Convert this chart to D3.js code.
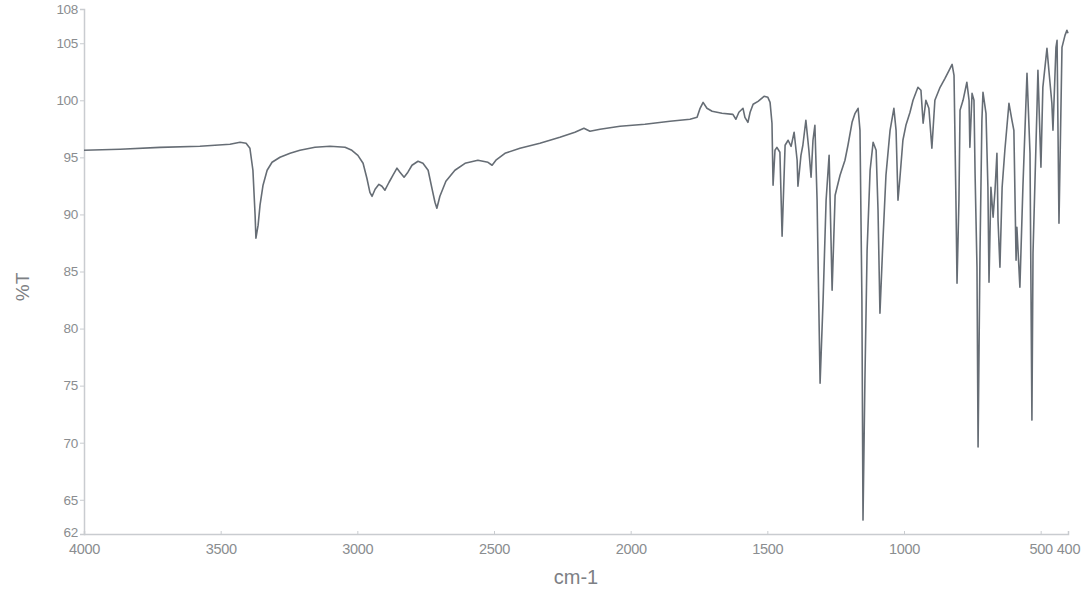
<!DOCTYPE html>
<html>
<head>
<meta charset="utf-8">
<script src="https://cdn.jsdelivr.net/npm/d3@7"></script>
<style>
  html, body { margin: 0; padding: 0; background: #fff; }
  svg { display: block; }
  .tick text { font-family: "Liberation Sans", Arial, sans-serif; }
</style>
</head>
<body>
<svg id="chart" width="1090" height="592"></svg>
<script>
// Wavenumber (cm-1) values
const wavenumbers = [
  4000, 3868, 3722, 3576, 3466, 3429, 3407, 3393, 3382, 3374, 3371, 3363, 3356, 3345, 3330, 3312,
  3283, 3246, 3210, 3155, 3100, 3045, 3020, 2998, 2979, 2965, 2954, 2946, 2935, 2921, 2910, 2899,
  2884, 2870, 2855, 2844, 2829, 2815, 2800, 2778, 2760, 2741, 2727, 2716, 2709, 2698, 2676, 2643,
  2606, 2559, 2522, 2507, 2493, 2460, 2405, 2332, 2259, 2204, 2171, 2149, 2112, 2039, 1948, 1856,
  1783, 1757, 1746, 1735, 1721, 1702, 1666, 1626, 1615, 1604, 1589, 1582, 1571, 1563, 1552, 1534,
  1512, 1498, 1490,
  1483, 1479, 1472, 1465, 1454, 1446, 1435, 1424, 1413, 1402, 1391, 1388, 1377, 1370, 1359, 1348,
  1340, 1333, 1326, 1318, 1307, 1296, 1285, 1274, 1267, 1263, 1252, 1234, 1216, 1205, 1190, 1179,
  1168, 1161, 1154, 1150, 1143, 1135, 1124, 1113, 1102, 1095, 1088, 1077, 1066, 1051, 1037, 1029,
  1022, 1015, 1004, 993, 978, 967, 949, 938, 930, 920, 909, 898, 887, 868, 850, 835,
  824, 817, 810, 806, 799, 795, 784, 770, 762, 759, 751, 744, 740, 733, 729, 722,
  715, 711, 700, 693, 689, 682, 674, 667, 660, 656, 649, 641, 631, 616, 605, 598,
  590, 587, 576, 565, 550, 539, 532, 528, 513, 510, 499, 492, 477, 470, 459, 455,
  444, 440, 433, 422, 411, 404, 400
];
// Transmittance (%T) at each wavenumber
const transmittance = [
  95.62, 95.71, 95.88, 95.97, 96.15, 96.32, 96.23, 95.80, 93.87, 89.93, 87.92, 89.06, 90.81, 92.56, 93.87, 94.57,
  95.01, 95.36, 95.62, 95.88, 95.97, 95.88, 95.62, 95.18, 94.48, 93.17, 91.94, 91.59, 92.21, 92.64, 92.47, 92.12,
  92.82, 93.43, 94.05, 93.70, 93.26, 93.70, 94.31, 94.66, 94.48, 93.87, 92.29, 91.07, 90.54, 91.59, 92.91, 93.87,
  94.48, 94.75, 94.57, 94.31, 94.75, 95.36, 95.80, 96.23, 96.76, 97.20, 97.55, 97.29, 97.46, 97.72, 97.90, 98.16,
  98.34, 98.51, 99.30, 99.82, 99.30, 99.04, 98.86, 98.77, 98.34, 98.95, 99.30, 98.51, 98.07, 98.95, 99.65, 99.91,
  100.35, 100.26, 99.82,
  97.99, 92.56, 95.62, 95.88, 95.45, 88.09, 96.06, 96.50, 95.97, 97.20, 94.75, 92.47, 95.18, 96.06, 98.25, 95.62,
  93.26, 96.50, 97.81, 91.24, 75.22, 82.49, 91.24, 95.18, 87.74, 83.36, 91.68, 93.43, 94.75, 96.06, 98.07, 98.86,
  99.30, 97.37, 82.49, 63.22, 75.48, 86.87, 93.87, 96.32, 95.62, 90.37, 81.35, 87.74, 93.43, 97.37, 99.30, 97.37,
  91.24, 93.17, 96.50, 97.81, 98.95, 100.0, 101.14, 100.88, 97.99, 100.0, 99.30, 95.80, 100.0, 101.14, 101.93, 102.63,
  103.15, 102.19, 91.24, 83.98, 91.24, 99.12, 100.0, 101.58, 100.0, 95.88, 100.61, 100.0, 93.61, 85.38, 69.62, 86.60,
  98.25, 100.70, 98.86, 92.38, 84.06, 92.38, 89.76, 92.12, 95.36, 89.49, 85.38, 92.38, 95.62, 99.74, 98.25, 97.37,
  85.99, 88.88, 83.63, 92.38, 102.36, 95.36, 71.98, 86.60, 99.74, 102.63, 94.13, 101.14, 104.55, 102.63, 99.74, 97.37,
  104.64, 105.25, 89.23, 104.64, 105.69, 106.13, 105.87
];
const xTicks = [4000, 3500, 3000, 2500, 2000, 1500, 1000, 500, 400];
const yTicks = [62, 65, 70, 75, 80, 85, 90, 95, 100, 105, 108];

const svg = d3.select("#chart");
const mLeft = 84, mRight = 1068, mTop = 9, mBottom = 534;

const x = d3.scaleLinear().domain([4000, 400]).range([mLeft, mRight]);
const y = d3.scaleLinear().domain([62, 108]).range([mBottom, mTop]);

const axisColor = "#c9ccd0";
const textColor = "#8a8d90";

// X axis
const gx = svg.append("g")
  .attr("transform", `translate(0,${mBottom})`)
  .call(d3.axisBottom(x).tickValues(xTicks).tickSize(-3).tickPadding(10).tickFormat(d3.format("d")));
gx.select(".domain").attr("stroke", axisColor).attr("stroke-width", 1.5);
gx.selectAll(".tick line").attr("stroke", axisColor);
gx.selectAll(".tick text").attr("fill", textColor).attr("font-size", 14.5).attr("letter-spacing", -0.3);

// Y axis
const gy = svg.append("g")
  .attr("transform", `translate(${mLeft},0)`)
  .call(d3.axisLeft(y).tickValues(yTicks).tickSize(4).tickPadding(2).tickFormat(d3.format("d")));
gy.select(".domain").attr("stroke", axisColor).attr("stroke-width", 1.5);
gy.selectAll(".tick line").attr("stroke", axisColor);
gy.selectAll(".tick text").attr("fill", textColor).attr("font-size", 13.5).attr("letter-spacing", -0.3);
// keep the lowest y label just clear of the x-axis labels
gy.selectAll(".tick").filter(d => d === 62).select("text").attr("dy", "0.2em");

// Spectrum line
const pts = wavenumbers.map((w, i) => [w, transmittance[i]]);
svg.append("path")
  .datum(pts)
  .attr("fill", "none")
  .attr("stroke", "#666d75")
  .attr("stroke-width", 1.6)
  .attr("stroke-linejoin", "round")
  .attr("d", d3.line().x(d => x(d[0])).y(d => y(d[1])));

// Axis titles
svg.append("text")
  .attr("x", 576).attr("y", 584)
  .attr("text-anchor", "middle")
  .attr("font-family", "Liberation Sans, Arial, sans-serif")
  .attr("font-size", 20)
  .attr("fill", "#7d8084")
  .text("cm-1");

svg.append("text")
  .attr("transform", "translate(29,287) rotate(-90)")
  .attr("text-anchor", "middle")
  .attr("font-family", "Liberation Sans, Arial, sans-serif")
  .attr("font-size", 19)
  .attr("fill", "#7d8084")
  .text("%T");
</script>
</body>
</html>
